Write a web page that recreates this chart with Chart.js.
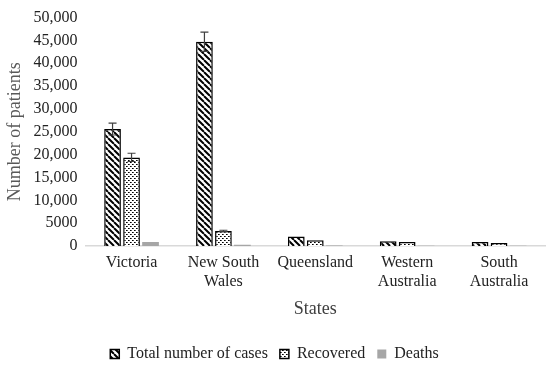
<!DOCTYPE html>
<html>
<head>
<meta charset="utf-8">
<script src="https://cdn.jsdelivr.net/npm/chart.js@4"></script>
<style>
  html, body { margin: 0; padding: 0; background: #fff; }
  #wrap { width: 550px; height: 368px; }
</style>
</head>
<body>
<div id="wrap"><canvas id="cnv"></canvas></div>
<script>
// values
const states = ["Victoria", ["New South", "Wales"], "Queensland", ["Western", "Australia"], ["South", "Australia"]];
const total_cases = [25600, 44700, 2100, 1050, 900];
const recovered = [19400, 3300, 1250, 850, 650];
const deaths = [900, 300, 120, 80, 80];
const total_err = [1300, 2100, 0, 0, 0];
const recovered_err = [900, 150, 0, 0, 0];
const deaths_err = [0, 0, 0, 0, 0];
const y_ticks = [0, 5000, 10000, 15000, 20000, 25000, 30000, 35000, 40000, 45000, 50000];

const serif = "'Liberation Serif', 'Times New Roman', serif";

function stripe_pattern() {
    const c = document.createElement("canvas");
    c.width = 6; c.height = 6;
    const g = c.getContext("2d");
    g.fillStyle = "#fff";
    g.fillRect(0, 0, 6, 6);
    g.strokeStyle = "#000";
    g.lineWidth = 2;
    g.beginPath();
    for (let k = -6; k <= 12; k += 6) {
        g.moveTo(k, 0);
        g.lineTo(k + 6, 6);
    }
    g.stroke();
    return g.createPattern(c, "repeat");
}

function dot_pattern() {
    const c = document.createElement("canvas");
    c.width = 4; c.height = 4;
    const g = c.getContext("2d");
    g.fillStyle = "#fff";
    g.fillRect(0, 0, 4, 4);
    g.fillStyle = "#000";
    g.fillRect(0, 0, 1, 1);
    g.fillRect(2, 2, 1, 1);
    g.fillStyle = "#555";
    g.fillRect(1, 0, 1, 1);
    g.fillRect(3, 2, 1, 1);
    return g.createPattern(c, "repeat");
}

const errors = [total_err, recovered_err, deaths_err];

// draws the error bars from the dataset values
const error_bar_plugin = {
    id: "error_bars",
    afterDatasetsDraw(chart) {
        const ctx = chart.ctx;
        const y = chart.scales.y;
        ctx.save();
        ctx.strokeStyle = "#404040";
        ctx.lineWidth = 1.2;
        chart.data.datasets.forEach(function (ds, i) {
            const meta = chart.getDatasetMeta(i);
            meta.data.forEach(function (bar, j) {
                const e = errors[i][j];
                if (!e) return;
                const v = ds.data[j];
                const top = y.getPixelForValue(v + e);
                const bottom = y.getPixelForValue(v - e);
                ctx.beginPath();
                ctx.moveTo(bar.x, top);
                ctx.lineTo(bar.x, bottom);
                ctx.moveTo(bar.x - 4, top);
                ctx.lineTo(bar.x + 4, top);
                ctx.moveTo(bar.x - 4, bottom);
                ctx.lineTo(bar.x + 4, bottom);
                ctx.stroke();
            });
        });
        ctx.restore();
    }
};

new Chart(document.getElementById("cnv").getContext("2d"), {
    type: "bar",
    data: {
        labels: states,
        datasets: [
            {
                label: "Total number of cases",
                data: total_cases,
                backgroundColor: stripe_pattern(),
                borderColor: "#000",
                borderWidth: 1.5
            },
            {
                label: "Recovered",
                data: recovered,
                backgroundColor: dot_pattern(),
                borderColor: "#000",
                borderWidth: 1.5
            },
            {
                label: "Deaths",
                data: deaths,
                backgroundColor: "#a6a6a6",
                borderColor: "#a6a6a6",
                borderWidth: 0
            }
        ]
    },
    options: {
        responsive: true,
        maintainAspectRatio: false,
        animation: false,
        layout: { padding: { left: 4, right: 5, top: 8, bottom: -4 } },
        datasets: {
            bar: { categoryPercentage: 0.62, barPercentage: 0.88 }
        },
        scales: {
            x: {
                grid: { display: false, drawTicks: false },
                border: { display: true, color: "#d9d9d9", width: 1.5 },
                ticks: {
                    color: "#222",
                    font: { family: serif, size: 16, lineHeight: 1.2 },
                    padding: 7,
                    maxRotation: 0
                },
                title: {
                    display: true,
                    text: "States",
                    color: "#404040",
                    font: { family: serif, size: 18 },
                    padding: { top: 0, bottom: 14 }
                }
            },
            y: {
                min: 0,
                max: 50000,
                afterBuildTicks: function (axis) {
                    axis.ticks = y_ticks.map(function (v) { return { value: v }; });
                },
                grid: { display: false, drawTicks: false },
                border: { display: false },
                ticks: {
                    color: "#222",
                    font: { family: serif, size: 16 },
                    padding: 8,
                    autoSkip: false,
                    callback: function (v) {
                        return v >= 10000 ? v.toLocaleString("en-US") : String(v);
                    }
                },
                title: {
                    display: true,
                    text: "Number of patients",
                    color: "#595959",
                    font: { family: serif, size: 18 },
                    padding: { top: 0, bottom: 0 }
                }
            }
        },
        plugins: {
            legend: {
                position: "bottom",
                labels: {
                    color: "#222",
                    font: { family: serif, size: 16 },
                    boxWidth: 9,
                    boxHeight: 9,
                    padding: 12
                }
            },
            tooltip: { enabled: false }
        }
    },
    plugins: [error_bar_plugin]
});
</script>
</body>
</html>
